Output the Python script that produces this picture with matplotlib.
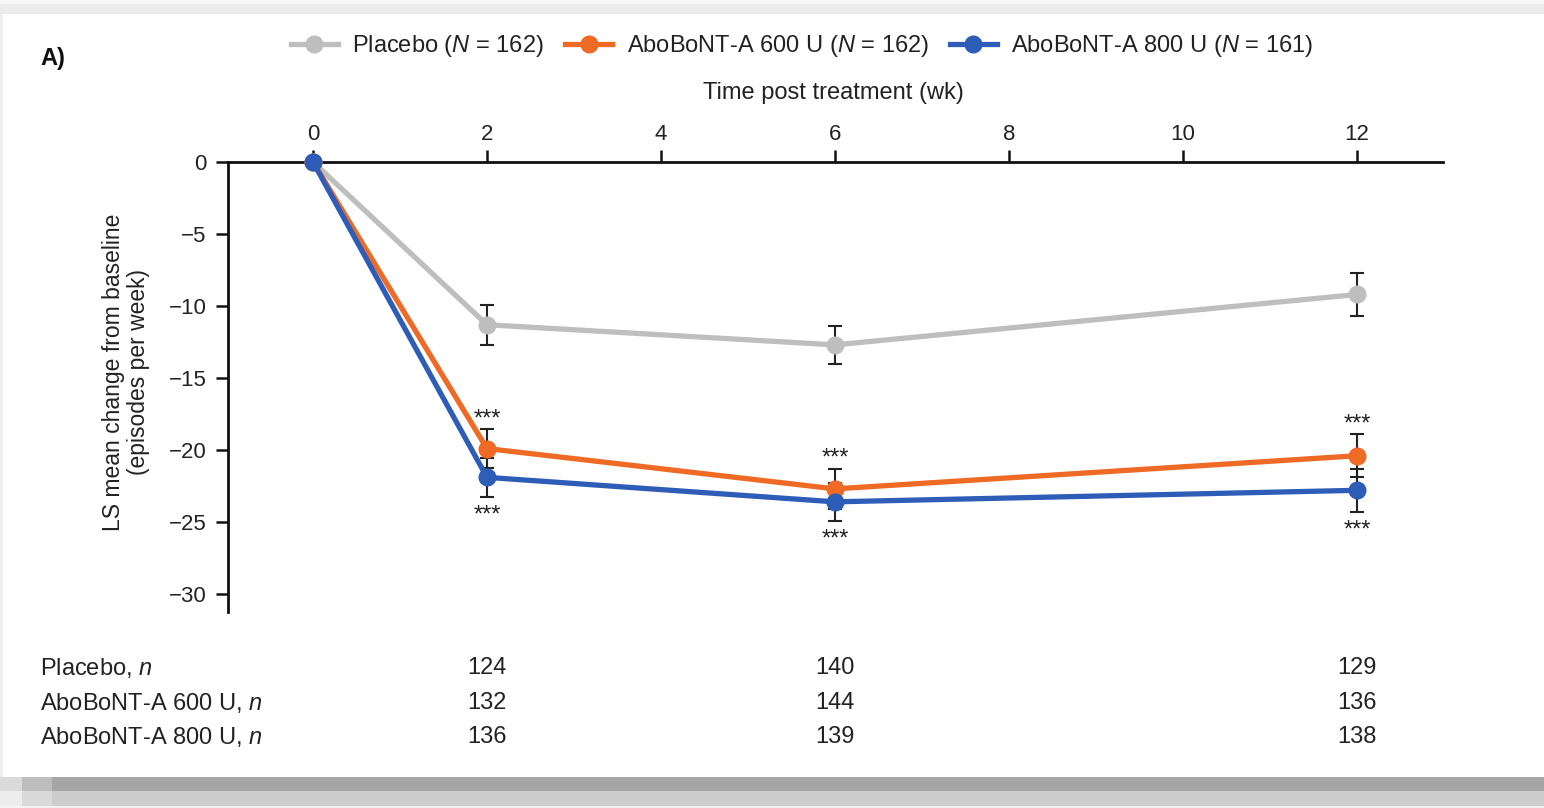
import matplotlib
matplotlib.use("Agg")
import matplotlib.pyplot as plt
import matplotlib.transforms as mtransforms
from matplotlib.patches import Rectangle
from matplotlib.lines import Line2D

plt.rcParams['font.family'] = ['Liberation Sans', 'DejaVu Sans']
plt.rcParams['mathtext.fontset'] = 'custom'
plt.rcParams['mathtext.rm'] = 'Liberation Sans'
plt.rcParams['mathtext.it'] = 'Liberation Sans:italic'

# ---------------- data ----------------
weeks = [0, 2, 6, 12]
placebo_mean = [0, -11.3, -12.7, -9.2]
placebo_err = [0, 1.4, 1.3, 1.5]
abo600_mean = [0, -19.9, -22.7, -20.4]
abo600_err = [0, 1.35, 1.4, 1.5]
abo800_mean = [0, -21.9, -23.6, -22.8]
abo800_err = [0, 1.35, 1.3, 1.5]

series_labels = [r'Placebo ($\it{N}$ = 162)',
                 r'AboBoNT-A 600 U ($\it{N}$ = 162)',
                 r'AboBoNT-A 800 U ($\it{N}$ = 161)']
colors = ['#BEBEBE', '#EF6A24', '#2D5DB6']

xticks = [0, 2, 4, 6, 8, 10, 12]
yticks = [0, -5, -10, -15, -20, -25, -30]

star_weeks = [2, 6, 12]

table_weeks = [2, 6, 12]
table_rows = [r'Placebo, $\it{n}$', r'AboBoNT-A 600 U, $\it{n}$', r'AboBoNT-A 800 U, $\it{n}$']
table_placebo = [124, 140, 129]
table_600 = [132, 144, 136]
table_800 = [136, 139, 138]

# ---------------- figure ----------------
W, H = 1544, 808
fig = plt.figure(figsize=(W / 100, H / 100), dpi=100)
fig.patch.set_facecolor('white')

def frect(x0, y0, x1, y1, color):
    fig.patches.append(Rectangle((x0 / W, 1 - y1 / H), (x1 - x0) / W, (y1 - y0) / H,
                                 transform=fig.transFigure, facecolor=color,
                                 edgecolor='none', zorder=0))

# decorative frame
frect(0, 0, W, 4, '#F6F6F6')
frect(0, 4, W, 14, '#EBEBEB')
frect(0, 14, 3, 777, '#EFEFEF')
frect(0, 777, W, 791, '#A6A6A6')
frect(0, 791, W, 806, '#CDCDCD')
frect(0, 806, W, H, '#F2F2F2')
frect(0, 777, 22, 791, '#DADADA')
frect(22, 777, 52, 791, '#BDBDBD')
frect(0, 791, 22, 806, '#EDEDED')
frect(22, 791, 52, 806, '#DADADA')

ax = fig.add_axes([228 / W, 1 - 612 / H, (1443 - 228) / W, (612 - 162) / H])
ax.set_facecolor('none')
ax.set_xlim(-0.977, 12.99)
ax.set_ylim(-31.25, 0)

for s in ['right', 'bottom']:
    ax.spines[s].set_visible(False)
for s in ['top', 'left']:
    ax.spines[s].set_linewidth(2.0)
    ax.spines[s].set_color('#111111')

ax.xaxis.tick_top()
ax.set_xticks(xticks)
ax.set_yticks(yticks)
ax.set_yticklabels(['0' if v == 0 else '\u2212' + str(abs(v)) for v in yticks])
ax.tick_params(axis='both', direction='out', length=8.5, width=1.8, color='#111111',
               labelsize=16, labelcolor='#222222')
ax.tick_params(axis='x', pad=3.5)
ax.tick_params(axis='y', pad=7)

means = [placebo_mean, abo600_mean, abo800_mean]
errs = [placebo_err, abo600_err, abo800_err]

for m, e in zip(means, errs):
    ax.errorbar(weeks[1:], m[1:], yerr=e[1:], fmt='none', ecolor='#222222',
                elinewidth=1.5, capsize=5, capthick=1.5, zorder=2, clip_on=False)

for m, c in zip(means, colors):
    ax.plot(weeks, m, color=c, lw=3.8, marker='o', markersize=12,
            markeredgecolor=c, zorder=3, clip_on=False)

# significance stars
for wk in star_weeks:
    i = weeks.index(wk)
    ax.annotate('***', xy=(wk, abo600_mean[i] + abo600_err[i]), xytext=(0, 4),
                textcoords='offset pixels', ha='center', va='baseline',
                fontsize=17, color='#222222')
    ax.annotate('***', xy=(wk, abo800_mean[i] - abo800_err[i]), xytext=(0, -25),
                textcoords='offset pixels', ha='center', va='baseline',
                fontsize=17, color='#222222')

# legend
handles = [Line2D([0], [0], color=c, lw=3.8, marker='o', markersize=12) for c in colors]
fig.legend(handles, series_labels, loc='center', bbox_to_anchor=(802 / W, 1 - 46 / H),
           ncol=3, frameon=False, fontsize=17, handlelength=2.0, handletextpad=0.6,
           columnspacing=0.9, labelcolor='#222222')

# labels
fig.text(833 / W, 1 - 93 / H, 'Time post treatment (wk)', ha='center', va='center',
         fontsize=17, color='#222222')
fig.text(126 / W, 1 - 372 / H, 'LS mean change from baseline\n(episodes per week)',
         ha='center', va='center', rotation=90, fontsize=16.5, color='#222222',
         linespacing=1.15)
fig.text(40 / W, 1 - 58 / H, 'A)', ha='left', va='center', fontsize=17,
         fontweight='bold', color='#111111')

# table
trans = mtransforms.blended_transform_factory(ax.transData, fig.transFigure)
row_y = [1 - 668 / H, 1 - 703 / H, 1 - 737 / H]
for y, lab, vals in zip(row_y, table_rows, [table_placebo, table_600, table_800]):
    fig.text(40 / W, y, lab, ha='left', va='center', fontsize=17, color='#222222')
    for wk, v in zip(table_weeks, vals):
        ax.text(wk, y, str(v), transform=trans, ha='center', va='center',
                fontsize=17, color='#222222')

fig.savefig('out.png', dpi=100)
